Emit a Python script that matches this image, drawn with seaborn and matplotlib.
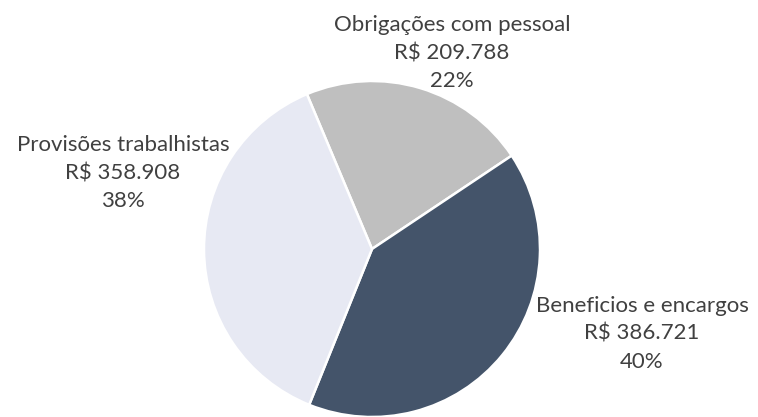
import matplotlib
matplotlib.use("Agg")
import matplotlib.pyplot as plt
import seaborn as sns

# dados
categorias = ["Obrigações com pessoal", "Beneficios e encargos", "Provisões trabalhistas"]
valores = [209788, 386721, 358908]
valores_txt = ["R$ 209.788", "R$ 386.721", "R$ 358.908"]
cores = ["#BFBFBF", "#44546A", "#E7E9F3"]

sns.set_theme(style="white")
plt.rcParams["font.family"] = ["Lato", "DejaVu Sans"]

W, H = 758, 417
fig = plt.figure(figsize=(W / 100, H / 100), dpi=100)
ax = fig.add_axes([0, 0, 1, 1])

# centro e raio da pizza em pixels
cx, cy, r = 372, 249, 168

ax.pie(valores, colors=cores, startangle=112.8, counterclock=False,
       wedgeprops=dict(edgecolor="white", linewidth=1.8), radius=1)

ax.set_xlim(-cx / r, (W - cx) / r)
ax.set_ylim(-(H - cy) / r, cy / r)
ax.set_aspect("equal")
ax.axis("off")

total = sum(valores)
# posições dos rótulos (pixels do centro do bloco de texto)
pos_rotulos = [(452, 53), (642, 334), (123, 173)]
for cat, vt, v, (px, py) in zip(categorias, valores_txt, valores, pos_rotulos):
    pct = round(100 * v / total)
    ax.text((px - cx) / r, (cy - py) / r, f"{cat}\n{vt}\n{pct}%",
            ha="center", va="center", fontsize=16, color="#404040",
            linespacing=1.52)

fig.savefig("out.png", dpi=100)
